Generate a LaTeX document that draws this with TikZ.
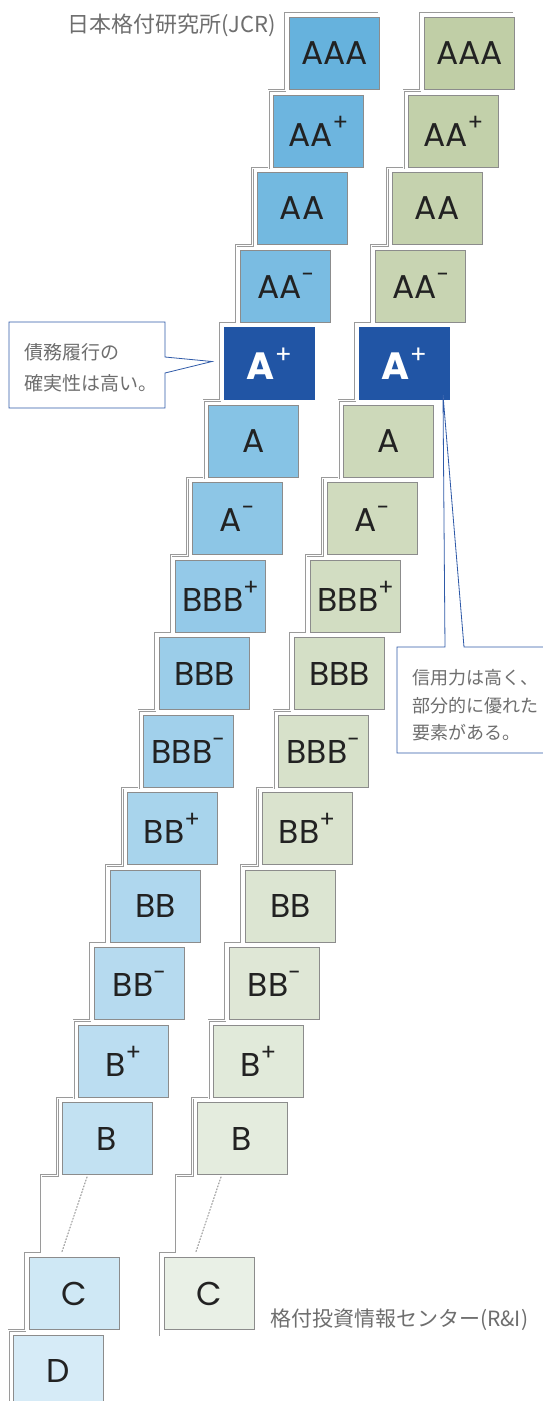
\documentclass[tikz,border=0pt]{standalone}
\usepackage{fontspec}
\setmainfont{Poppins}
\newfontfamily\jp{Noto Sans CJK JP}
\definecolor{lstart}{HTML}{66B2DD}
\definecolor{lend}{HTML}{D6EBF7}
\definecolor{rstart}{HTML}{C0CEA6}
\definecolor{rend}{HTML}{E9F0E6}
\definecolor{aplus}{HTML}{2155A5}
\definecolor{boxline}{HTML}{8C8C8C}
\definecolor{stair}{HTML}{9A9A9A}
\definecolor{txt}{HTML}{222222}
\definecolor{lbl}{HTML}{6E6E6E}
\definecolor{callout}{HTML}{2F5AA8}
\newcommand\rsup[1]{\raisebox{0.48em}{\fontsize{23}{23}\selectfont #1}}
\newcommand\bsup[1]{\raisebox{0.42em}{\mdseries\fontsize{25}{25}\selectfont #1}}
\begin{document}
\begin{tikzpicture}[x=1pt,y=-1pt,
  rating/.style={draw=boxline,line width=1pt,minimum width=90pt,minimum height=72pt,
    inner sep=0pt,anchor=north west,text=txt,font=\fontsize{33}{33}\selectfont},
  topbox/.style={rating,draw=aplus,fill=aplus,text=white,font=\fontsize{38}{38}\selectfont\bfseries},
  stairline/.style={draw=stair,line width=0.7pt,double=white,double distance=0.9pt},
  note/.style={draw=callout,line width=0.8pt,fill=white},
  notetext/.style={text=lbl,anchor=base west,inner sep=0pt},
  caplabel/.style={text=lbl,inner sep=0pt}]
\useasboundingbox (0,0) rectangle (543,1401);
% staircases
\draw[stairline] (378,13) -- (285,13)
  \foreach \i in {1,...,17}{ -- ({289-16.25*(\i-1)-4},{17+77.5*\i-4}) -- ({289-16.25*\i-4},{17+77.5*\i-4}) }
  -- ({289-16.25*17-4},1405);
\draw[stairline] (513,13) -- (420,13)
  \foreach \i in {1,...,16}{ -- ({424-16.25*(\i-1)-4},{17+77.5*\i-4}) -- ({424-16.25*\i-4},{17+77.5*\i-4}) }
  -- ({424-16.25*16-4},1336);
% left column
\foreach \i/\lab in {0/AAA,1/AA\rsup{+},2/AA,3/AA\rsup{-},5/A,6/A\rsup{-},7/BBB\rsup{+},8/BBB,9/BBB\rsup{-},10/BB\rsup{+},11/BB,12/BB\rsup{-},13/B\rsup{+},14/B,16/C,17/D}{
  \pgfmathtruncatemacro\pc{round(100*\i/17)}
  \colorlet{cc}{lend!\pc!lstart}
  \node[rating,fill=cc] (L\i) at ({289-16.25*\i},{17+77.5*\i}) {\lab};
}
\node[topbox] (L4) at ({289-16.25*4},{17+77.5*4}) {A\bsup{+}};
% right column
\foreach \i/\lab in {0/AAA,1/AA\rsup{+},2/AA,3/AA\rsup{-},5/A,6/A\rsup{-},7/BBB\rsup{+},8/BBB,9/BBB\rsup{-},10/BB\rsup{+},11/BB,12/BB\rsup{-},13/B\rsup{+},14/B,16/C}{
  \pgfmathtruncatemacro\pc{round(100*\i/16)}
  \colorlet{cc}{rend!\pc!rstart}
  \node[rating,fill=cc] (R\i) at ({424-16.25*\i},{17+77.5*\i}) {\lab};
}
\node[topbox] (R4) at ({424-16.25*4},{17+77.5*4}) {A\bsup{+}};
% dotted gaps
\draw[stair,line width=1.1pt,dotted,line cap=round] ([xshift=-20pt,yshift=-2pt]L14.south) -- ([xshift=-13pt,yshift=4pt]L16.north);
\draw[stair,line width=1.1pt,dotted,line cap=round] ([xshift=-21pt,yshift=-2pt]R14.south) -- ([xshift=-14pt,yshift=4pt]R16.north);
% captions
\node[caplabel,anchor=east,font=\jp\fontsize{22}{22}\selectfont] (jcr) at (276,25) {日本格付研究所(JCR)};
\node[caplabel,anchor=west,font=\jp\fontsize{21}{22}\selectfont] (ri) at (270,1320) {格付投資情報センター(R\&I)};
% callout 1
\coordinate (tip1) at ([xshift=-12pt,yshift=2pt]L4.west);
\draw[note] (9,322) -- (165,322) -- (165,357) -- (tip1) -- (165,373) -- (165,408) -- (9,408) -- cycle;
\node[notetext,font=\jp\fontsize{19}{19}\selectfont] (n1a) at (24,359) {債務履行の};
\node[notetext,font=\jp\fontsize{19}{19}\selectfont] (n1b) at (24,390) {確実性は高い。};
% callout 2
\coordinate (tip2) at ([xshift=-7pt,yshift=5pt]R4.south east);
\draw[note] (548,647) -- (464,647) -- (tip2) -- (445,647) -- (397,647) -- (397,753) -- (548,753);
\node[notetext,font=\jp\fontsize{18}{18}\selectfont] (n2a) at (412,684) {信用力は高く、};
\node[notetext,font=\jp\fontsize{18}{18}\selectfont] (n2b) at (412,712) {部分的に優れた};
\node[notetext,font=\jp\fontsize{18}{18}\selectfont] (n2c) at (412,739) {要素がある。};
\end{tikzpicture}
\end{document}
